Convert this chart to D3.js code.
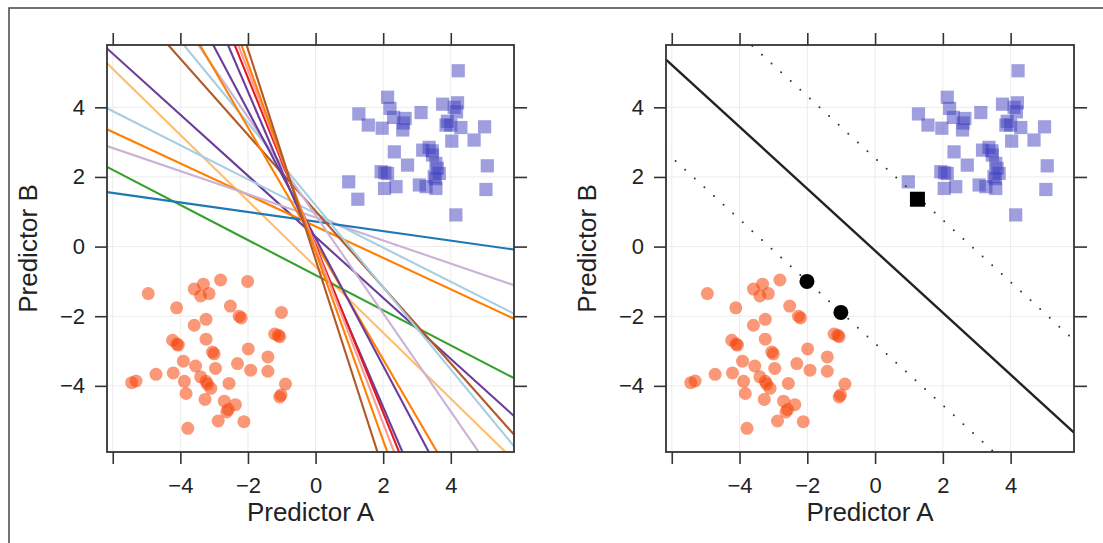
<!DOCTYPE html>
<html>
<head>
<meta charset="utf-8">
<script src="https://cdn.jsdelivr.net/npm/d3@7"></script>
<style>
  body { margin: 0; background: #fff; }
  text { font-family: "Liberation Sans", Arial, sans-serif; fill: #222; }
</style>
</head>
<body>
<svg id="svg1" width="1103" height="543"></svg>
<script>
// class 1 (circles): predictor A / predictor B
var class1 = [
  [-4.95,-1.35],[-4.11,-1.76],[-3.59,-1.22],[-3.32,-1.08],[-3.40,-1.42],[-3.15,-1.35],
  [-2.81,-0.96],[-2.01,-1.00],[-2.52,-1.71],[-2.26,-2.00],[-2.20,-2.05],[-1.01,-1.89],
  [-3.24,-2.09],[-3.59,-2.26],[-4.23,-2.69],[-4.06,-2.83],[-4.10,-2.80],[-3.24,-2.66],
  [-3.05,-3.03],[-3.00,-3.08],[-1.99,-2.94],[-1.41,-3.17],[-1.21,-2.51],[-1.06,-2.59],
  [-1.10,-2.55],[-3.91,-3.29],[-3.55,-3.43],[-2.96,-3.50],[-2.31,-3.36],[-1.92,-3.55],
  [-1.41,-3.58],[-4.21,-3.63],[-4.72,-3.67],[-5.44,-3.91],[-5.31,-3.86],[-3.88,-3.87],
  [-3.40,-3.74],[-3.24,-3.87],[-3.20,-3.95],[-3.10,-4.07],[-2.56,-3.93],[-3.83,-4.22],
  [-3.27,-4.39],[-0.89,-3.95],[-1.06,-4.32],[-1.02,-4.26],[-2.70,-4.44],[-2.37,-4.54],
  [-2.63,-4.75],[-2.58,-4.68],[-2.88,-5.01],[-2.12,-5.03],[-3.78,-5.22]
];
// class 2 (squares)
var class2 = [
  [4.22,5.05],[2.13,4.29],[2.20,3.97],[1.28,3.81],[1.56,3.49],[1.97,3.40],[2.31,3.71],
  [2.65,3.68],[2.60,3.55],[2.58,3.35],[3.12,3.85],[3.76,4.09],[4.20,4.13],[4.10,4.00],
  [4.17,3.87],[3.86,3.49],[4.00,3.49],[3.90,3.60],[4.30,3.42],[4.03,3.03],[4.69,3.06],
  [5.00,3.44],[2.33,2.72],[2.72,2.34],[3.17,2.77],[3.36,2.85],[3.45,2.75],[3.46,2.63],
  [3.56,2.39],[3.66,2.10],[3.60,2.25],[3.55,1.95],[3.51,2.01],[1.94,2.15],[2.05,2.12],
  [2.13,2.10],[2.04,1.67],[2.38,1.72],[3.07,1.77],[3.27,1.72],[3.56,1.67],[0.98,1.86],
  [1.25,1.36],[4.15,0.91],[5.08,2.32],[5.04,1.64]
];
// candidate boundaries in the left panel: slope and intercept at A = 0
var lineSlopes     = [-0.877,-0.947,-0.490,-0.452,-0.332,-0.504,-0.137,
                      -1.094,-1.180,-1.409,-1.666,-1.833,-2.265,-2.404,-2.535,-2.710,-3.020];
var lineIntercepts = [ 0.28, -0.58,  0.95,  0.58,  0.84, -0.82,  0.72,
                       1.02,  1.19,  0.90,  0.09,  0.24, -0.08,  0.04, -0.01, -0.15, -0.37];
// support vectors and the max-margin boundary (right panel)
var svCircles = [[-2.01,-1.00],[-1.01,-1.89]];
var svSquares = [[1.25,1.36]];
var svmSlope = -0.89;
var svmIntercept = -0.12;
var marginIntercepts = [2.54, -2.78];

var xTicks = [-6,-4,-2,0,2,4];
var yTicks = [-4,-2,0,2,4];

var lineColours = ["#6a3d9a","#fdbf6f","#a6cee3","#ff7f00","#cab2d6","#33a02c","#1f78b4",
                   "#b15928","#a6cee3","#cab2d6","#ff7f00","#6a3d9a","#6a3d9a","#e31a1c","#fb9a99","#ff7f00","#b15928"];

var svg = d3.select("#svg1");
var hauteur = 452 - 45;

// outer frame
svg.append("rect").attr("x", 9).attr("y", 8).attr("width", 1200).attr("height", 700)
    .style("fill", "none").style("stroke", "#444").style("stroke-width", 1.5);

function panneau(gauche, largeur, id) {
    var x = d3.scaleLinear().domain([-6.17, 5.87]).range([gauche, gauche + largeur]);
    var y = d3.scaleLinear().domain([-5.9, 5.79]).range([452, 45]);
    var g = svg.append("g");

    g.append("clipPath").attr("id", id).append("rect")
        .attr("x", gauche).attr("y", 45).attr("width", largeur).attr("height", hauteur);

    // grid
    g.selectAll(".gx").data(xTicks).enter().append("line")
        .attr("x1", d => x(d)).attr("x2", d => x(d)).attr("y1", 45).attr("y2", 452)
        .style("stroke", "#ececec").style("stroke-width", 1);
    g.selectAll(".gy").data(yTicks).enter().append("line")
        .attr("y1", d => y(d)).attr("y2", d => y(d)).attr("x1", gauche).attr("x2", gauche + largeur)
        .style("stroke", "#ececec").style("stroke-width", 1);

    // axes on four sides
    var fmt = d => d === -6 ? "" : d3.format("d")(d);
    var bas = g.append("g").attr("transform", "translate(0,452)")
        .call(d3.axisBottom(x).tickValues(xTicks).tickSize(12).tickPadding(13).tickFormat(fmt));
    var haut = g.append("g").attr("transform", "translate(0,45)")
        .call(d3.axisTop(x).tickValues(xTicks).tickSize(12).tickFormat(""));
    var gaucheAxe = g.append("g").attr("transform", "translate(" + gauche + ",0)")
        .call(d3.axisLeft(y).tickValues(yTicks).tickSize(12).tickPadding(10).tickFormat(fmt));
    var droite = g.append("g").attr("transform", "translate(" + (gauche + largeur) + ",0)")
        .call(d3.axisRight(y).tickValues(yTicks).tickSize(13).tickFormat(""));
    [bas, haut, gaucheAxe, droite].forEach(function(a) {
        a.select(".domain").remove();
        a.selectAll("line").style("stroke", "#333").style("stroke-width", 1.6);
        a.selectAll("text").style("font-size", "22px").style("fill", "#222")
            .style("font-family", "'Liberation Sans', Arial, sans-serif");
    });

    var plot = g.append("g").attr("clip-path", "url(#" + id + ")");

    g.append("text").attr("x", gauche + largeur / 2).attr("y", 521)
        .attr("text-anchor", "middle").style("font-size", "26px").text("Predictor A");
    g.append("text").attr("transform", "translate(" + (gauche - 70) + ",248.5) rotate(-90)")
        .attr("text-anchor", "middle").style("font-size", "26px").text("Predictor B");

    // box
    g.append("rect").attr("x", gauche).attr("y", 45).attr("width", largeur).attr("height", hauteur)
        .style("fill", "none").style("stroke", "#333").style("stroke-width", 1.8);

    return {x: x, y: y, plot: plot};
}

function points(p) {
    p.plot.selectAll(".c1").data(class1).enter().append("circle")
        .attr("cx", d => p.x(d[0])).attr("cy", d => p.y(d[1])).attr("r", 6.5)
        .style("fill", "#f5440a").style("fill-opacity", 0.55);
    p.plot.selectAll(".c2").data(class2).enter().append("rect")
        .attr("x", d => p.x(d[0]) - 6.6).attr("y", d => p.y(d[1]) - 6.6)
        .attr("width", 13.2).attr("height", 13.2)
        .style("fill", "#4040bf").style("fill-opacity", 0.5);
}

// left panel
var p1 = panneau(107, 407, "clip1");
points(p1);
var xs = p1.x.domain();
p1.plot.selectAll(".ln").data(lineSlopes).enter().append("line")
    .attr("x1", p1.x(xs[0])).attr("x2", p1.x(xs[1]))
    .attr("y1", (d, i) => p1.y(lineIntercepts[i] + d * xs[0]))
    .attr("y2", (d, i) => p1.y(lineIntercepts[i] + d * xs[1]))
    .style("stroke", (d, i) => lineColours[i]).style("stroke-width", 2.1);

// right panel
var p2 = panneau(666, 408, "clip2");
points(p2);
var xs2 = p2.x.domain();
p2.plot.append("line")
    .attr("x1", p2.x(xs2[0])).attr("x2", p2.x(xs2[1]))
    .attr("y1", p2.y(svmIntercept + svmSlope * xs2[0]))
    .attr("y2", p2.y(svmIntercept + svmSlope * xs2[1]))
    .style("stroke", "#222").style("stroke-width", 2.4);
p2.plot.selectAll(".mg").data(marginIntercepts).enter().append("line")
    .attr("x1", p2.x(xs2[0])).attr("x2", p2.x(xs2[1]))
    .attr("y1", d => p2.y(d + svmSlope * xs2[0]))
    .attr("y2", d => p2.y(d + svmSlope * xs2[1]))
    .style("stroke", "#333").style("stroke-width", 2)
    .style("stroke-linecap", "round").style("stroke-dasharray", "0,13");
p2.plot.selectAll(".sv1").data(svCircles).enter().append("circle")
    .attr("cx", d => p2.x(d[0])).attr("cy", d => p2.y(d[1])).attr("r", 7.5)
    .style("fill", "#000");
p2.plot.selectAll(".sv2").data(svSquares).enter().append("rect")
    .attr("x", d => p2.x(d[0]) - 7.5).attr("y", d => p2.y(d[1]) - 7.5)
    .attr("width", 15).attr("height", 15).style("fill", "#000");
</script>
</body>
</html>
